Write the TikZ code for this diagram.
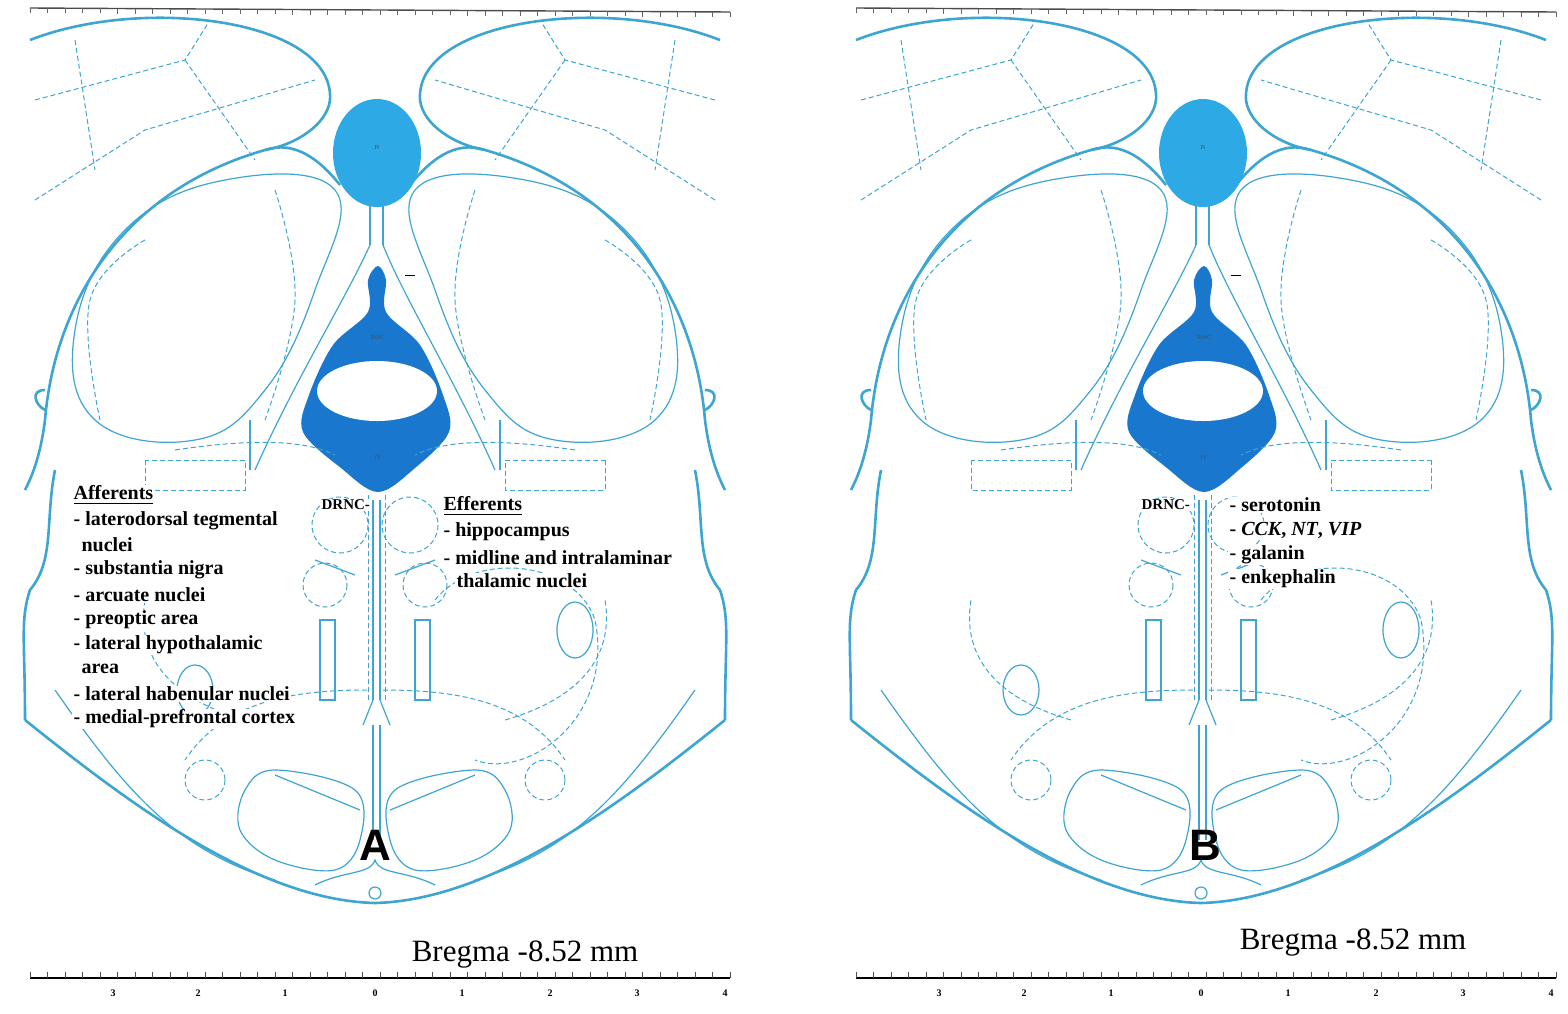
\documentclass[tikz,border=0pt]{standalone}
\usepackage{fontspec}
\setmainfont{Liberation Serif}
\setsansfont{Liberation Sans}
\usetikzlibrary{shapes.geometric}
\begin{document}
\begin{tikzpicture}[x=0.5pt,y=-0.5pt,
  thick line/.style={draw=brl,line width=1.3pt},
  thin line/.style={draw=brl,line width=0.6pt},
  dash line/.style={draw=brl,line width=0.5pt,dash pattern=on 2.5pt off 1.5pt},
  lab/.style={font=\bfseries\fontsize{10}{12}\selectfont,anchor=west,inner sep=0.6pt,fill=white},
  tiny/.style={font=\fontsize{3}{3}\selectfont,text=black!70,inner sep=0pt},
  rnum/.style={font=\bfseries\fontsize{5}{5}\selectfont,inner sep=0pt}]
\definecolor{brl}{RGB}{60,165,210}
\definecolor{pifill}{RGB}{45,170,230}
\definecolor{dkfill}{RGB}{25,120,205}
\useasboundingbox (0,0) rectangle (1568,1013);
\newcommand{\brainpanel}{%
  \draw[black!70,line width=0.7pt] (-345,8) -- (355,12);
  \foreach \i in {0,...,40}{\draw[black!60,line width=0.3pt] (-345+\i*17.5,8+\i*0.1) -- ++(0,5);}
  \draw[thick line] (-345,40) .. controls (-230,-5) and (-40,20) .. (-45,100) .. controls (-48,125) and (-80,145) .. (-110,150);
  \draw[thick line] (345,40) .. controls (230,-5) and (40,20) .. (45,100) .. controls (48,125) and (80,145) .. (110,150);
  \draw[thick line] (-110,150) .. controls (-80,140) and (-55,160) .. (-35,185);
  \draw[thick line] (110,150) .. controls (80,140) and (55,160) .. (35,185);
  \draw[thick line] (-110,150) .. controls (-250,190) and (-320,300) .. (-330,420) .. controls (-335,460) and (-345,480) .. (-350,490);
  \draw[thick line] (110,150) .. controls (250,190) and (320,300) .. (330,420) .. controls (335,460) and (345,480) .. (350,490);
  \draw[thick line] (-330,390) .. controls (-345,390) and (-340,405) .. (-330,410);
  \draw[thick line] (330,390) .. controls (345,390) and (340,405) .. (330,410);
  \draw[thick line] (-320,470) .. controls (-330,520) and (-320,560) .. (-345,590) .. controls (-355,620) and (-350,640) .. (-350,720);
  \draw[thick line] (320,470) .. controls (330,520) and (320,560) .. (345,590) .. controls (355,620) and (350,640) .. (350,720);
  \draw[thick line] (-350,720) .. controls (-250,800) and (-120,900) .. (0,903) .. controls (120,900) and (250,800) .. (350,720);
  \draw[thin line] (-320,690) .. controls (-250,790) and (-200,850) .. (-100,880);
  \draw[thin line] (320,690) .. controls (250,790) and (200,850) .. (100,880);
  \draw[dash line] (-340,100) -- (-190,60) -- (-165,20);
  \draw[dash line] (-190,60) -- (-120,160);
  \draw[dash line] (-340,200) -- (-230,130) -- (-60,80);
  \draw[dash line] (-300,40) -- (-280,170);
  \draw[dash line] (340,100) -- (190,60) -- (165,20);
  \draw[dash line] (190,60) -- (120,160);
  \draw[dash line] (340,200) -- (230,130) -- (60,80);
  \draw[dash line] (300,40) -- (280,170);
  \draw[thin line] plot[smooth cycle,tension=0.7] coordinates {(-40,190) (-60,290) (-110,390) (-180,440) (-280,420) (-300,330) (-250,230) (-150,180)};
  \draw[thin line] plot[smooth cycle,tension=0.7] coordinates {(40,190) (60,290) (110,390) (180,440) (280,420) (300,330) (250,230) (150,180)};
  \draw[dash line] plot[smooth,tension=0.7] coordinates {(-100,190) (-80,300) (-110,420)};
  \draw[dash line] plot[smooth,tension=0.7] coordinates {(100,190) (80,300) (110,420)};
  \draw[dash line] plot[smooth,tension=0.7] coordinates {(-230,240) (-285,300) (-275,420)};
  \draw[dash line] plot[smooth,tension=0.7] coordinates {(230,240) (285,300) (275,420)};
  \draw[thin line] (-5,205) -- (-5,245) (8,205) -- (8,245);
  \draw[thin line] (-5,245) .. controls (-30,300) and (-80,380) .. (-120,470);
  \draw[thin line] (8,245) .. controls (30,300) and (80,380) .. (120,470);
  \node[draw=none,fill=pifill,ellipse,minimum width=44pt,minimum height=54pt,inner sep=0pt] (pi\p) at (2,153) {};
  \node[tiny] at (2,148) {Pi};
  \fill[dkfill] plot[smooth cycle,tension=0.55] coordinates {(3,266) (11,280) (11,312) (45,345) (68,395) (74,432) (40,468) (3,492) (-34,468) (-72,432) (-66,395) (-42,345) (-7,312) (-7,280)};
  \fill[white] (2,391) ellipse (60 and 30);
  \node[tiny] at (3,338) {RtNC};
  \node[tiny] at (3,458) {IV};
  \draw[black,line width=0.5pt] (30,275) -- (40,275);
  \draw[dash line] (-200,450) .. controls (-100,435) and (-60,445) .. (-40,455);
  \draw[dash line] (200,450) .. controls (100,435) and (60,445) .. (40,455);
  \draw[thin line] (-125,420) -- (-125,470) (125,420) -- (125,470);
  \draw[dash line] (-230,460) rectangle (-130,490);
  \draw[dash line] (230,460) rectangle (130,490);
  \draw[dash line] (-35,525) circle (28) (35,525) circle (28);
  \draw[dash line] (-50,585) circle (22) (50,585) circle (22);
  \draw[dash line] (-7,495) -- (-7,700) (10,495) -- (10,700);
  \draw[thin line] (-2,500) -- (-2,700) (5,500) -- (5,700);
  \draw[thin line] (-2,700) -- (-12,725) (5,700) -- (15,725);
  \draw[thin line] (-2,725) -- (-2,840) (5,725) -- (5,840);
  \draw[thin line] (-60,560) -- (-20,575) (60,560) -- (20,575);
  \draw[thin line] (-55,620) rectangle (-40,700) (55,620) rectangle (40,700);
  \draw[dash line] (-8,690) .. controls (-80,690) and (-150,700) .. (-190,760);
  \draw[dash line] (8,690) .. controls (80,690) and (150,700) .. (190,760);
  \draw[dash line] (-130,720) .. controls (-200,700) and (-240,660) .. (-230,600);
  \draw[dash line] (130,720) .. controls (200,700) and (240,660) .. (230,600);
  \draw[dash line] (60,600) .. controls (100,550) and (200,560) .. (220,620) .. controls (240,720) and (150,780) .. (100,760);
  \draw[thin line] (200,630) ellipse (18 and 28);
  \draw[thin line] (-180,690) ellipse (18 and 25);
  \draw[dash line] (-170,780) circle (20) (170,780) circle (20);
  \draw[thin line] plot[smooth cycle,tension=0.6] coordinates {(-100,770) (-20,790) (-15,840) (-40,870) (-100,860) (-135,830) (-130,790)};
  \draw[thin line] plot[smooth cycle,tension=0.6] coordinates {(100,770) (20,790) (15,840) (40,870) (100,860) (135,830) (130,790)};
  \draw[thin line] (-100,775) -- (-15,810) (100,775) -- (15,810);
  \draw[thin line] (-60,885) .. controls (-30,870) and (-5,875) .. (0,860) .. controls (5,875) and (30,870) .. (60,885);
  \draw[thin line] (0,893) circle (6);
  \draw[black,line width=1pt] (-345,978) -- (355,978);
  \foreach \i in {0,...,40}{\draw[black!70,line width=0.3pt] (-345+\i*17.5,978) -- ++(0,-6);}
  \foreach \n/\xx in {3/-262,2/-177,1/-90,0/0,1/87,2/175,3/262,4/350}{\node[rnum] at (\xx,993) {\n};}
}
\begin{scope}[shift={(375,0)}]
\def\p{a}\brainpanel
\end{scope}
\begin{scope}[shift={(1201,0)}]
\def\p{b}\brainpanel
\end{scope}
\node[lab] (aff) at (72,495) {\underline{Afferents}};
\node[lab] (a1) at (72,521) {- laterodorsal tegmental};
\node[lab] (a2) at (80,545) {nuclei};
\node[lab] (a3) at (72,570) {- substantia nigra};
\node[lab] (a4) at (72,595) {- arcuate nuclei};
\node[lab] (a5) at (72,620) {- preoptic area};
\node[lab] (a6) at (72,645) {- lateral hypothalamic};
\node[lab] (a7) at (80,669) {area};
\node[lab] (a8) at (72,694) {- lateral habenular nuclei};
\node[lab] (a9) at (72,719) {- medial-prefrontal cortex};
\node[lab,font=\bfseries\fontsize{7.5}{9}\selectfont] (drnca) at (320,505) {DRNC-};
\node[lab] (eff) at (442,506) {\underline{Efferents}};
\node[lab] (e1) at (442,532) {- hippocampus};
\node[lab] (e2) at (442,558) {- midline and intralaminar};
\node[lab] (e3) at (455,581) {thalamic nuclei};
\node[font=\sffamily\bfseries\fontsize{22}{24}\selectfont,inner sep=0pt] (A) at (375,845) {A};
\node[font=\fontsize{15.5}{17}\selectfont,inner sep=0pt] (brega) at (525,955) {Bregma -8.52 mm};
\node[lab,font=\bfseries\fontsize{7.5}{9}\selectfont] (drncb) at (1140,505) {DRNC-};
\node[lab] (b1) at (1228,505) {- serotonin};
\node[lab] (b2) at (1228,530) {- \textit{CCK}, \textit{NT}, \textit{VIP}};
\node[lab] (b3) at (1228,555) {- galanin};
\node[lab] (b4) at (1228,579) {- enkephalin};
\node[font=\sffamily\bfseries\fontsize{22}{24}\selectfont,inner sep=0pt] (B) at (1205,845) {B};
\node[font=\fontsize{15.5}{17}\selectfont,inner sep=0pt] (bregb) at (1353,943) {Bregma -8.52 mm};
\end{tikzpicture}
\end{document}
